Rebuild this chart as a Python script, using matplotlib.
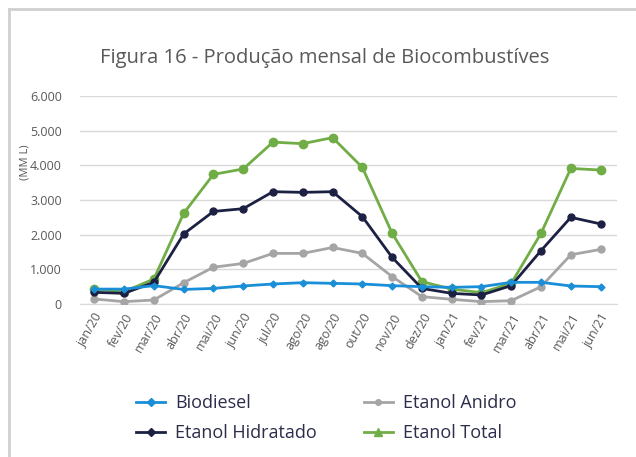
import numpy as np
import matplotlib
matplotlib.use('Agg')
import matplotlib.pyplot as plt
from matplotlib.lines import Line2D
from matplotlib.ticker import FuncFormatter

months = ['jan/20', 'fev/20', 'mar/20', 'abr/20', 'mai/20', 'jun/20', 'jul/20', 'ago/20',
          'ago/20', 'out/20', 'nov/20', 'dez/20', 'jan/21', 'fev/21', 'mar/21', 'abr/21',
          'mai/21', 'jun/21']

biodiesel = [430, 430, 530, 420, 450, 520, 577, 615, 596, 577, 529, 500, 480, 500, 625, 625, 519, 500]
anidro = [144, 67, 115, 615, 1060, 1170, 1460, 1460, 1630, 1460, 790, 212, 135, 67, 96, 500, 1420, 1575]
hidratado = [336, 307, 625, 2020, 2670, 2750, 3240, 3220, 3240, 2520, 1345, 450, 307, 260, 530, 1540, 2500, 2310]
total = [430, 355, 720, 2615, 3740, 3895, 4670, 4625, 4800, 3940, 2040, 645, 430, 327, 596, 2040, 3910, 3865]

c_bio = '#1a8fd8'
c_ani = '#a5a5a5'
c_hid = '#1c2143'
c_tot = '#71ad47'
txt = '#595959'

plt.rcParams['font.family'] = ['Open Sans', 'DejaVu Sans']

fig = plt.figure(figsize=(6.36, 4.57), dpi=100)
ax = fig.add_axes([0.1258, 0.3348, 0.8443, 0.4551])

x = np.arange(len(months))
ax.plot(x, biodiesel, color=c_bio, lw=2, marker='D', ms=3.5, zorder=5)
ax.plot(x, anidro, color=c_ani, lw=2, marker='o', ms=5, zorder=3)
ax.plot(x, hidratado, color=c_hid, lw=2, marker='o', ms=5, zorder=4)
ax.plot(x, total, color=c_tot, lw=2, marker='o', ms=6, zorder=2)

ax.set_xlim(-0.48, 17.55)
ax.set_ylim(0, 6000)
ax.set_yticks(np.arange(0, 6001, 1000))
ax.yaxis.set_major_formatter(FuncFormatter(lambda v, p: '{:,.0f}'.format(v).replace(',', '.')))
ax.grid(axis='y', color='#d9d9d9', lw=1)
ax.set_axisbelow(True)
for s in ['top', 'right', 'left']:
    ax.spines[s].set_visible(False)
ax.spines['bottom'].set_color('#d9d9d9')
ax.tick_params(axis='both', length=0, colors=txt, labelsize=9)
ax.tick_params(axis='y', pad=13)
ax.set_xticks(x)
ax.set_xticklabels(months, rotation=60, ha='right', rotation_mode='anchor')
ax.tick_params(axis='x', pad=5)

fig.text(0.039, 0.645, '(MM L)', rotation=90, color=txt, fontsize=8, ha='center', va='center')
fig.text(0.51, 0.874, 'Figura 16 - Produção mensal de Biocombustíves', color=txt,
         fontsize=14.5, ha='center', va='center')

# frame
fig.add_artist(Line2D([0.014, 1.0], [0.980, 0.980], color='#d0d0d0', lw=2, transform=fig.transFigure))
fig.add_artist(Line2D([0.014, 0.014], [0.0, 0.980], color='#d0d0d0', lw=2, transform=fig.transFigure))

handles = [
    Line2D([], [], color=c_bio, lw=2, marker='D', ms=4),
    Line2D([], [], color=c_hid, lw=2, marker='D', ms=4),
    Line2D([], [], color=c_ani, lw=2, marker='o', ms=4),
    Line2D([], [], color=c_tot, lw=2, marker='^', ms=6),
]
labels = ['Biodiesel', 'Etanol Hidratado', 'Etanol Anidro', 'Etanol Total']
fig.legend(handles, labels, ncol=2, loc='center', bbox_to_anchor=(0.513, 0.085), frameon=False,
           fontsize=13, labelcolor='#2b2d4a', handlelength=1.6, columnspacing=2.6,
           labelspacing=0.65, handletextpad=0.55)

fig.savefig('out.png', dpi=100)
